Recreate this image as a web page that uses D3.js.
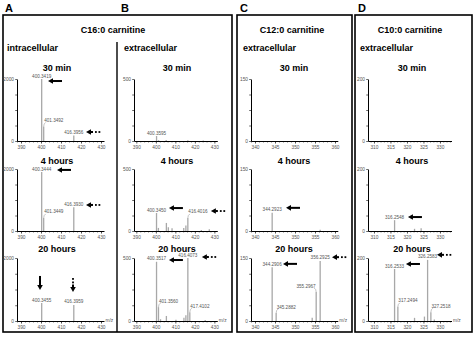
<!DOCTYPE html>
<html><head><meta charset="utf-8">
<script src="https://cdn.jsdelivr.net/npm/d3@7"></script>
<style>
html,body{margin:0;padding:0;background:#fff;}
svg{display:block;font-family:"Liberation Sans",Arial,sans-serif;}
</style></head>
<body><svg id="c" width="474" height="337"></svg>
<script>
// ---------- data ----------
const panelLetters = ["A","B","C","D"];
const compounds = ["C16:0 carnitine","C12:0 carnitine","C10:0 carnitine"];
const fractions = ["intracellular","extracellular","extracellular","extracellular"];
const timePoints = ["30 min","4 hours","20 hours"];
const yMaxima = [2000, 500, 150, 200];
const xDomains = [[388,431.5],[388.8,431.5],[339,360.7],[308.2,333.5]];
const xMajorTicks = [[390,400,410,420,430],[390,400,410,420,430],[340,345,350,355,360],[310,315,320,325,330]];
const xMinorStep = [2,2,1,1];

// peaks: [m/z, intensity, label placement ("c" centred, "r" right, "l" left, "" no label)]
const peaksA30 = [[400.3419,2000,"c"],[401.3492,470,"r"],[416.3956,175,"c"]];
const peaksA4h = [[400.3444,1900,"c"],[401.3449,420,"r"],[416.3930,770,"c"]];
const peaksA20h = [[400.3455,570,"c"],[416.3959,510,"c"]];
const peaksB30 = [[400.3595,40,"c"],[401.4,6,""],[405.3,8,""],[416.4,6,""],[424.3,4,""]];
const peaksB4h = [[400.3450,145,"c"],[401.3,25,""],[405.4,65,""],[406.4,30,""],[408.3,22,""],[414.3,25,""],[415.4,45,""],[416.4016,105,"r"],[423.3,8,""],[427.4,14,""]];
const peaksB20h = [[400.3517,470,"c"],[401.3560,110,"r"],[402.4,14,""],[405.4,40,""],[410.3,10,""],[414.4,25,""],[415.4,45,""],[416.4073,500,"c"],[417.4102,70,"r"],[425.3,8,""]];
const peaksC30 = [];
const peaksC4h = [[344.2923,44,"c"],[356.3,3,""]];
const peaksC20h = [[344.2906,128,"c"],[345.2882,19,"r"],[354.3,8,""],[355.2967,69,"l"],[356.2925,143,"c"]];
const peaksD30 = [];
const peaksD4h = [[316.2548,35,"c"],[322.3,7,""],[324.3,9,""]];
const peaksD20h = [[316.2533,165,"c"],[317.2494,45,"r"],[322.3,10,""],[325.3,14,""],[326.2583,194,"c"],[327.2518,28,"r"],[328.3,5,""]];
const peakSets = [[peaksA30,peaksA4h,peaksA20h],[peaksB30,peaksB4h,peaksB20h],[peaksC30,peaksC4h,peaksC20h],[peaksD30,peaksD4h,peaksD20h]];

// arrows: [m/z of tip, intensity of tip, style, direction]
const arrowsA30 = [[403.5,1935,"solid","left"],[422.5,290,"dotted","left"]];
const arrowsA4h = [[408,1970,"solid","left"],[422.5,840,"dotted","left"]];
const arrowsA20h = [[399.5,985,"solid","down"],[416,920,"dotted","down"]];
const arrowsB4h = [[406.7,185,"solid","left"],[428.2,161,"dotted","left"]];
const arrowsB20h = [[406.7,484,"solid","left"],[423.6,508,"dotted","left"]];
const arrowsC4h = [[347.75,56,"solid","left"]];
const arrowsC20h = [[347,136,"solid","left"],[359.25,152,"dotted","left"]];
const arrowsD4h = [[320.3,45,"solid","left"]];
const arrowsD20h = [[319.7,181,"solid","left"],[329.1,210,"dotted","left"]];
const arrowSets = [[arrowsA30,arrowsA4h,arrowsA20h],[[],arrowsB4h,arrowsB20h],[[],arrowsC4h,arrowsC20h],[[],arrowsD4h,arrowsD20h]];

// ---------- layout ----------
const plotLeft = [17,134,251,368];
const plotRight = [104,217.3,337.8,451.5];
const plotTop = [79,169,258];
const plotBottom = [141,231,321];
const colCenter = [57,177,294,412];

const svg = d3.select("#c");
const fmt = d3.format(".4f");
const peakColor = "#a8a8a8";
const labelColor = "#555";

// boxes
const boxes = [[3,15,229,317],[237,15,115,317],[355,15,117,317]];
svg.selectAll("rect.box").data(boxes).join("rect")
  .attr("x",d=>d[0]).attr("y",d=>d[1]).attr("width",d=>d[2]).attr("height",d=>d[3])
  .attr("fill","none").attr("stroke","#000").attr("stroke-width",1.6);
svg.append("line").attr("x1",117).attr("x2",117).attr("y1",42).attr("y2",332)
  .attr("stroke","#000").attr("stroke-width",1.4);

// letters
const letterX = [5,121,240,358];
svg.selectAll("text.letter").data(panelLetters).join("text")
  .attr("x",(d,i)=>letterX[i]).attr("y",12)
  .attr("font-size",11).attr("font-weight","bold").text(d=>d);

// compound titles
const compoundX = [113,292,410];
svg.selectAll("text.comp").data(compounds).join("text")
  .attr("x",(d,i)=>compoundX[i]).attr("y",33).attr("text-anchor","middle")
  .attr("font-size",9).attr("font-weight","bold").text(d=>d);

// fraction labels
const fracX = [7,124,243,360];
svg.selectAll("text.frac").data(fractions).join("text")
  .attr("x",(d,i)=>fracX[i]).attr("y",51)
  .attr("font-size",9).attr("font-weight","bold").text(d=>d);

const timeY = [71,163.5,252];

peakSets.forEach((col,ci)=>{
  const x = d3.scaleLinear().domain(xDomains[ci]).range([plotLeft[ci],plotRight[ci]]);
  col.forEach((peaks,ri)=>{
    const y = d3.scaleLinear().domain([0,yMaxima[ci]]).range([plotBottom[ri],plotTop[ri]]);
    const g = svg.append("g");
    // time label
    g.append("text").attr("x",colCenter[ci]).attr("y",timeY[ri]).attr("text-anchor","middle")
      .attr("font-size",9).attr("font-weight","bold").text(timePoints[ri]);
    // peaks
    g.selectAll("line.peak").data(peaks).join("line")
      .attr("x1",d=>x(d[0])).attr("x2",d=>x(d[0]))
      .attr("y1",y(0)).attr("y2",d=>y(d[1]))
      .attr("stroke",peakColor).attr("stroke-width",1.3);
    // labels
    const lab = peaks.filter(d=>d[2]);
    lab.forEach(d=>{
      const px = x(d[0]), py = y(d[1]);
      if(d[2]==="c"){
        g.append("text").attr("x",px).attr("y",py-1.5).attr("text-anchor","middle")
          .attr("font-size",4.6).attr("fill",labelColor).text(fmt(d[0]));
      } else {
        const s = d[2]==="r" ? 1 : -1;
        g.append("path").attr("d",`M${px},${py} Q${px},${py-3} ${px+s*2},${py-4}`)
          .attr("fill","none").attr("stroke","#888").attr("stroke-width",0.5);
        g.append("text").attr("x",px+s*0.5).attr("y",py-4.5)
          .attr("text-anchor",s>0?"start":"end")
          .attr("font-size",4.6).attr("fill",labelColor).text(fmt(d[0]));
      }
    });
    // axes
    const minor = d3.range(Math.ceil(xDomains[ci][0]/xMinorStep[ci])*xMinorStep[ci], xDomains[ci][1], xMinorStep[ci])
      .filter(v=>!xMajorTicks[ci].includes(v));
    const xa = g.append("g").attr("transform",`translate(0,${y(0)})`)
      .call(d3.axisBottom(x).tickValues(xMajorTicks[ci]).tickSize(2.5).tickSizeOuter(0).tickPadding(2));
    xa.select(".domain").attr("stroke","#000").attr("stroke-width",1);
    xa.selectAll(".tick line").attr("stroke","#000").attr("stroke-width",0.7);
    xa.selectAll(".tick text").attr("font-size",4.8).attr("fill",labelColor).attr("font-family","Liberation Sans, Arial");
    g.append("g").attr("transform",`translate(0,${y(0)})`)
      .call(d3.axisBottom(x).tickValues(minor).tickSize(1.5).tickFormat(""))
      .call(a=>a.select(".domain").remove())
      .selectAll(".tick line").attr("stroke","#000").attr("stroke-width",0.5);
    const ymax = yMaxima[ci];
    const ya = g.append("g").attr("transform",`translate(${plotLeft[ci]},0)`)
      .call(d3.axisLeft(y).tickValues([0,ymax/4,ymax/2,3*ymax/4,ymax]).tickSize(1.8).tickSizeOuter(0).tickPadding(1.2)
        .tickFormat(v=>(v===0||v===ymax)?String(v):""));
    ya.select(".domain").attr("stroke","#000").attr("stroke-width",1);
    ya.selectAll(".tick line").attr("stroke","#000").attr("stroke-width",0.6);
    ya.selectAll(".tick text").attr("font-size",4.8).attr("fill",labelColor).attr("font-family","Liberation Sans, Arial");
    if(ri===2){
      g.append("text").attr("x",plotRight[ci]+1.5).attr("y",y(0)+0.5)
        .attr("font-size",4.8).attr("fill",labelColor).text("m/z");
    }
    // arrows
    arrowSets[ci][ri].forEach(a=>{
      const tx = x(a[0]), ty = y(a[1]);
      if(a[3]==="left"){
        g.append("path").attr("d",`M${tx},${ty} L${tx+5},${ty-2.8} L${tx+5},${ty+2.8} Z`).attr("fill","#000");
        if(a[2]==="solid"){
          g.append("rect").attr("x",tx+4.5).attr("y",ty-1).attr("width",9.5).attr("height",2).attr("fill","#000");
        } else {
          g.append("rect").attr("x",tx+4.5).attr("y",ty-1).attr("width",2.5).attr("height",2).attr("fill","#000");
          [9,12.5].forEach(o=>g.append("rect").attr("x",tx+o).attr("y",ty-0.9).attr("width",1.8).attr("height",1.8).attr("fill","#000"));
        }
      } else {
        g.append("path").attr("d",`M${tx},${ty} L${tx-2.8},${ty-5} L${tx+2.8},${ty-5} Z`).attr("fill","#000");
        if(a[2]==="solid"){
          g.append("rect").attr("x",tx-1).attr("y",ty-14).attr("width",2).attr("height",9.5).attr("fill","#000");
        } else {
          g.append("rect").attr("x",tx-1).attr("y",ty-7.5).attr("width",2).attr("height",3).attr("fill","#000");
          [10.5,14].forEach(o=>g.append("rect").attr("x",tx-0.9).attr("y",ty-o).attr("width",1.8).attr("height",1.8).attr("fill","#000"));
        }
      }
    });
  });
});
</script></body></html>
